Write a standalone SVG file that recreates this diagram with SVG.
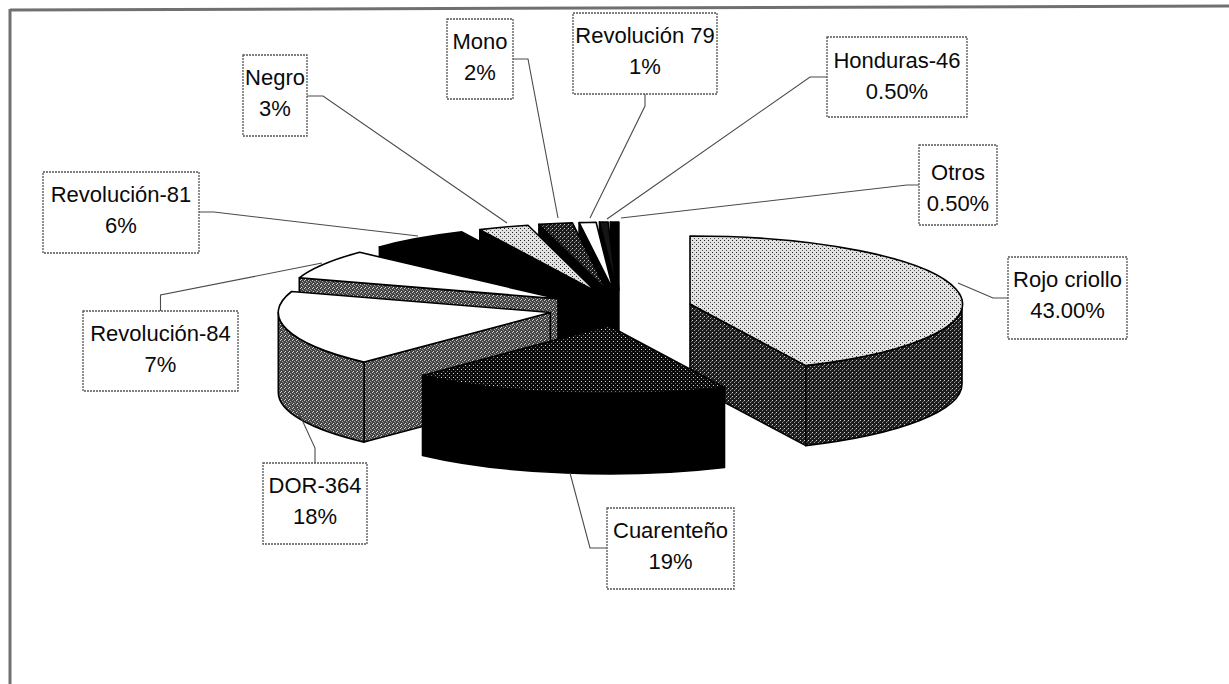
<svg xmlns="http://www.w3.org/2000/svg" width="1229" height="684" viewBox="0 0 1229 684">
<defs>
  <!-- halftone-like fills used by the pie faces -->
  <pattern id="stipLight" width="4" height="4" patternUnits="userSpaceOnUse">
    <rect width="4" height="4" fill="#e2e2e2"/>
    <rect x="0" y="0" width="1" height="1" fill="#222"/>
    <rect x="2" y="2" width="1" height="1" fill="#555"/>
  </pattern>
  <pattern id="stipDark" width="4" height="4" patternUnits="userSpaceOnUse">
    <rect width="4" height="4" fill="#1c1c1c"/>
    <rect x="0" y="0" width="1" height="1" fill="#d0d0d0"/>
    <rect x="2" y="2" width="1" height="1" fill="#9a9a9a"/>
    <rect x="3" y="1" width="1" height="1" fill="#666"/>
  </pattern>
  <pattern id="dotGrid" width="4" height="4" patternUnits="userSpaceOnUse">
    <rect width="4" height="4" fill="#0a0a0a"/>
    <rect x="1" y="1" width="1" height="1" fill="#d8d8d8"/>
    <rect x="3" y="3" width="1" height="1" fill="#777"/>
  </pattern>
  <pattern id="crossGray" width="4" height="4" patternUnits="userSpaceOnUse">
    <rect width="4" height="4" fill="#444"/>
    <rect x="0" y="0" width="1" height="1" fill="#cfcfcf"/>
    <rect x="2" y="1" width="1" height="1" fill="#a8a8a8"/>
    <rect x="1" y="3" width="1" height="1" fill="#dcdcdc"/>
    <rect x="3" y="2" width="1" height="1" fill="#8a8a8a"/>
  </pattern>
</defs>
<style>
  .edge{stroke:#000;stroke-width:1.6;stroke-linejoin:round}
  .blk{fill:#000}
  .wht{fill:#fff}
  .lt{fill:url(#stipLight)}
  .dk{fill:url(#stipDark)}
  .grid{fill:url(#dotGrid)}
  .gray{fill:url(#crossGray)}
  .lbl rect{fill:#fff;stroke:#555;stroke-width:1.3;stroke-dasharray:2 1}
  .lbl text{font-family:"Liberation Sans",Arial,sans-serif;font-size:22px;fill:#0a0a0a;text-anchor:middle}
  #connectors path{fill:none;stroke:#4a4a4a;stroke-width:1.1}
  #frame path{fill:none;stroke:#707070;stroke-width:3}
</style>

<rect width="1229" height="684" fill="#fff"/>

<g id="frame">
  <path d="M10,10 L1229,6"/>
  <path d="M10,9 V684"/>
</g>

<!-- pie slices, painted back to front -->
<g id="slice-otros">
  <path class="edge blk" d="M618.9,290 L610.4,222 L610.4,302 L618.9,370 Z"/>
  <path class="edge blk" d="M618.9,290 L610.4,222 A272 68 0 0 1 618.9,222 Z"/>
</g>
<g id="slice-honduras">
  <path class="edge blk" d="M616.6,290 L599.5,222.1 L599.5,302.1 L616.6,370 Z"/>
  <path class="edge" fill="#151515" d="M616.6,290 L599.5,222.1 A272 68 0 0 1 608.1,222 Z"/>
</g>
<g id="slice-rev79">
  <path class="edge blk" d="M613.2,290.1 L579.1,222.6 L579.1,302.6 L613.2,370.1 Z"/>
  <path class="edge wht" d="M613.2,290.1 L579.1,222.6 A272 68 0 0 1 596.1,222.2 Z"/>
</g>
<g id="slice-mono">
  <path class="edge blk" d="M606.5,290.3 L538.9,224.4 L538.9,304.4 L606.5,370.3 Z"/>
  <path class="edge dk" d="M606.5,290.3 L538.9,224.4 A272 68 0 0 1 572.4,222.8 Z"/>
</g>
<g id="slice-negro">
  <path class="edge blk" d="M595.6,291.1 L479.8,229.6 L479.8,309.6 L595.6,371.1 Z"/>
  <path class="edge lt" d="M595.6,291.1 L479.8,229.6 A272 68 0 0 1 528,225.2 Z"/>
</g>
<g id="slice-rev81">
  <path class="edge blk" d="M577.7,293.4 L379.4,246.9 L379.4,326.9 L577.7,373.4 Z"/>
  <path class="edge blk" d="M577.7,293.4 L379.4,246.9 A272 68 0 0 1 461.9,231.9 Z"/>
</g>
<g id="slice-rev84">
  <path class="edge gray" d="M558,298.8 L299.3,277.8 L299.3,357.8 L558,378.8 Z"/>
  <path class="edge wht" d="M558,298.8 L299.3,277.8 A272 68 0 0 1 359.7,252.3 Z"/>
</g>
<g id="slice-rojo">
  <path class="edge dk" d="M690,304 L805.8,365.6 L805.8,445.6 L690,384 Z"/>
  <path class="edge dk" d="M805.8,365.6 A272 68 0 0 0 962,304 L962,384 A272 68 0 0 1 805.8,445.6 Z"/>
  <path class="edge lt" d="M690,304 L690,236 A272 68 0 0 1 805.8,365.6 Z"/>
</g>
<g id="slice-dor">
  <path class="edge gray" d="M550.3,312.5 L364.1,362.1 L364.1,442.1 L550.3,392.5 Z"/>
  <path class="edge gray" d="M278.3,312.5 A272 68 0 0 0 364.1,362.1 L364.1,442.1 A272 68 0 0 1 278.3,392.5 Z"/>
  <path class="edge wht" d="M550.3,312.5 L364.1,362.1 A272 68 0 0 1 291.6,291.5 Z"/>
</g>
<g id="slice-cuarenteno">
  <path class="edge blk" d="M724.5,387.4 A272 68 0 0 1 422.5,375.4 L422.5,455.4 A272 68 0 0 0 724.5,467.4 Z"/>
  <path class="edge grid" d="M608.7,325.8 L724.5,387.4 A272 68 0 0 1 422.5,375.4 Z"/>
</g>

<!-- leader lines from the labels to their slices -->
<g id="connectors">
  <path d="M307,96 H323 L507,223"/>
  <path d="M513,59 H528 L558,218"/>
  <path d="M645,94 V106 L590,218"/>
  <path d="M827,77 H810 L607,219"/>
  <path d="M919,185 H907 L621,218"/>
  <path d="M1008,298 H993 L958,283"/>
  <path d="M607,548 H590 L570,473"/>
  <path d="M315,463 V448 L292,398"/>
  <path d="M160.5,311 V295 L322,263"/>
  <path d="M199,212 H214 L418,236"/>
</g>

<!-- data labels -->
<g id="label-negro" class="lbl">
  <rect x="243" y="55" width="64" height="81"/>
  <text x="275" y="85">Negro</text><text x="275" y="116">3%</text>
</g>
<g id="label-mono" class="lbl">
  <rect x="447" y="19" width="66" height="80"/>
  <text x="480" y="49">Mono</text><text x="480" y="80">2%</text>
</g>
<g id="label-rev79" class="lbl">
  <rect x="573" y="13" width="144" height="81"/>
  <text x="645" y="43">Revolución 79</text><text x="645" y="74">1%</text>
</g>
<g id="label-honduras" class="lbl">
  <rect x="827" y="37" width="140" height="80"/>
  <text x="897" y="68">Honduras-46</text><text x="897" y="99">0.50%</text>
</g>
<g id="label-otros" class="lbl">
  <rect x="919" y="145" width="78" height="80"/>
  <text x="958" y="180">Otros</text><text x="958" y="211">0.50%</text>
</g>
<g id="label-rojo" class="lbl">
  <rect x="1008" y="257" width="119" height="82"/>
  <text x="1067.5" y="287">Rojo criollo</text><text x="1067.5" y="318">43.00%</text>
</g>
<g id="label-cuarenteno" class="lbl">
  <rect x="607" y="508" width="127" height="81"/>
  <text x="670.5" y="538">Cuarenteño</text><text x="670.5" y="569">19%</text>
</g>
<g id="label-dor" class="lbl">
  <rect x="263" y="463" width="104" height="81"/>
  <text x="315" y="493">DOR-364</text><text x="315" y="524">18%</text>
</g>
<g id="label-rev84" class="lbl">
  <rect x="83" y="311" width="155" height="80"/>
  <text x="160.5" y="341">Revolución-84</text><text x="160.5" y="372">7%</text>
</g>
<g id="label-rev81" class="lbl">
  <rect x="43" y="172" width="156" height="81"/>
  <text x="121" y="202">Revolución-81</text><text x="121" y="233">6%</text>
</g>
</svg>
